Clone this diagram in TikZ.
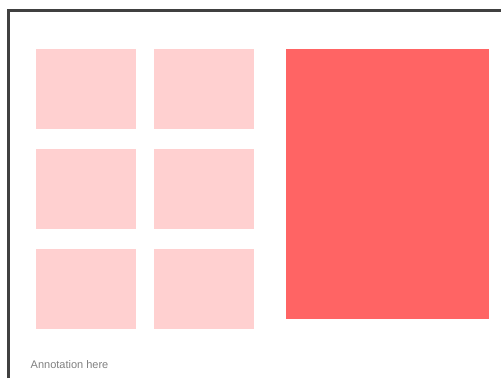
\documentclass[tikz,border=0pt]{standalone}
\usepackage{fontspec}
\setmainfont{Liberation Sans}
\usetikzlibrary{positioning}
\definecolor{tile}{RGB}{255,208,208}
\definecolor{panel}{RGB}{255,100,100}
\definecolor{frame}{RGB}{64,64,64}
\definecolor{note}{RGB}{128,128,128}

\begin{document}
\begin{tikzpicture}[x=1pt,y=-1pt,
 tilebox/.style={fill=tile,minimum width=99.5pt,minimum height=80pt,inner sep=0pt,anchor=north west},
 bigbox/.style={fill=panel,minimum width=203.5pt,minimum height=270pt,inner sep=0pt,anchor=north west}]
\useasboundingbox (0,0) rectangle (501,378);
\draw[frame,line width=3pt,line join=miter] (8.5,378)--(8.5,10.5)--(501,10.5);
% grid of small tiles
\node[tilebox] (t11) at (36,49) {};
\node[tilebox] (t12) at (154,49) {};
\node[tilebox] (t21) at (36,149) {};
\node[tilebox] (t22) at (154,149) {};
\node[tilebox] (t31) at (36,249) {};
\node[tilebox] (t32) at (154,249) {};
% large panel
\node[bigbox] (panel) at (285.5,49) {};
\node[anchor=base west,inner sep=0pt,font=\fontsize{11}{13}\selectfont,text=note] (annot) at (30.5,368.5) {Annotation here};
\end{tikzpicture}
\end{document}
